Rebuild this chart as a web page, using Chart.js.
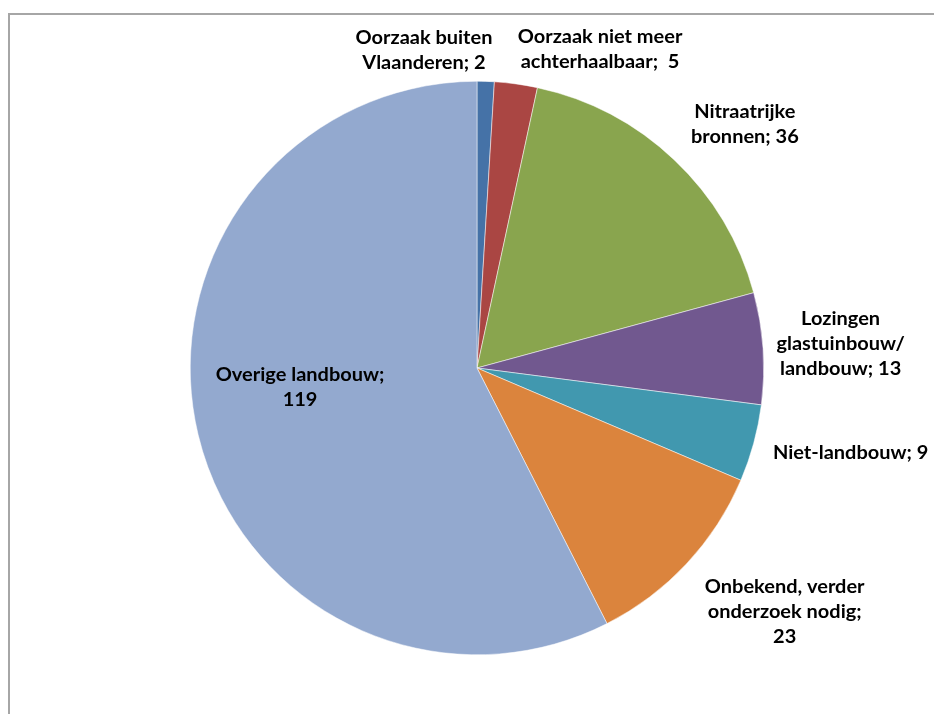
<!DOCTYPE html>
<html>
<head>
<meta charset="utf-8">
<script src="https://cdn.jsdelivr.net/npm/chart.js@4/dist/chart.umd.min.js"></script>
<style>
  html, body { margin: 0; padding: 0; background: #fff; }
  #wrap { position: relative; width: 934px; height: 714px; }
  #frame { position: absolute; left: 8px; top: 13px; right: -5px; bottom: -5px;
           border-left: 2px solid #a6a6a6; border-top: 2px solid #a6a6a6; }
  canvas { position: absolute; left: 0; top: 0; }
</style>
</head>
<body>
<div id="wrap">
  <div id="frame"></div>
  <canvas id="pie" width="934" height="714"></canvas>
</div>
<script>
// oorzaken, met de tekst zoals in de labels (regels gescheiden)
var categories = [
    ['Oorzaak buiten', 'Vlaanderen; 2'],
    ['Oorzaak niet meer', 'achterhaalbaar;  5'],
    ['Nitraatrijke', 'bronnen; 36'],
    ['Lozingen', 'glastuinbouw/', 'landbouw; 13'],
    ['Niet-landbouw; 9'],
    ['Onbekend, verder', 'onderzoek nodig;', '23'],
    ['Overige landbouw;', '119']
];
var values = [2, 5, 36, 13, 9, 23, 119];
var colors = ['#4572a7', '#aa4643', '#89a54e', '#71588f', '#4198af', '#db843d', '#93a9cf'];

// label positie t.o.v. middelpunt, in eenheden van de straal
var labelOffsets = [
    [-0.185, -1.106], [0.429, -1.110], [0.934, -0.848], [1.268, -0.084],
    [1.303, 0.296], [1.073, 0.850], [-0.617, 0.068]
];

var labelPlugin = {
    id: 'pieLabels',
    afterDatasetsDraw: function(chart) {
        var ctx = chart.ctx;
        var meta = chart.getDatasetMeta(0);
        var arc0 = meta.data[0];
        var cx = arc0.x, cy = arc0.y, r = arc0.outerRadius;
        ctx.save();
        ctx.font = 'bold 18px Lato, "Liberation Sans", sans-serif';
        ctx.fillStyle = '#000';
        ctx.textAlign = 'center';
        ctx.textBaseline = 'middle';
        var lh = 25;
        categories.forEach(function(lines, i) {
            var x = cx + labelOffsets[i][0] * r;
            var y = cy + labelOffsets[i][1] * r;
            var y0 = y - (lines.length - 1) * lh / 2;
            lines.forEach(function(t, k) {
                // tekst iets breder, zoals in het origineel
                ctx.save();
                ctx.translate(x, y0 + k * lh);
                ctx.scale(1.11, 1);
                ctx.fillText(t, 0, 0);
                ctx.restore();
            });
        });
        ctx.restore();
    }
};

new Chart(document.getElementById('pie'), {
    type: 'pie',
    data: {
        labels: categories.map(function(c) { return c.join(' '); }),
        datasets: [{
            data: values,
            backgroundColor: colors,
            borderColor: '#ffffff',
            borderWidth: 0.5
        }]
    },
    options: {
        responsive: false,
        animation: false,
        layout: { padding: { left: 190, right: 170, top: 81, bottom: 59 } },
        plugins: {
            legend: { display: false },
            tooltip: { enabled: false }
        }
    },
    plugins: [labelPlugin]
});
</script>
</body>
</html>
